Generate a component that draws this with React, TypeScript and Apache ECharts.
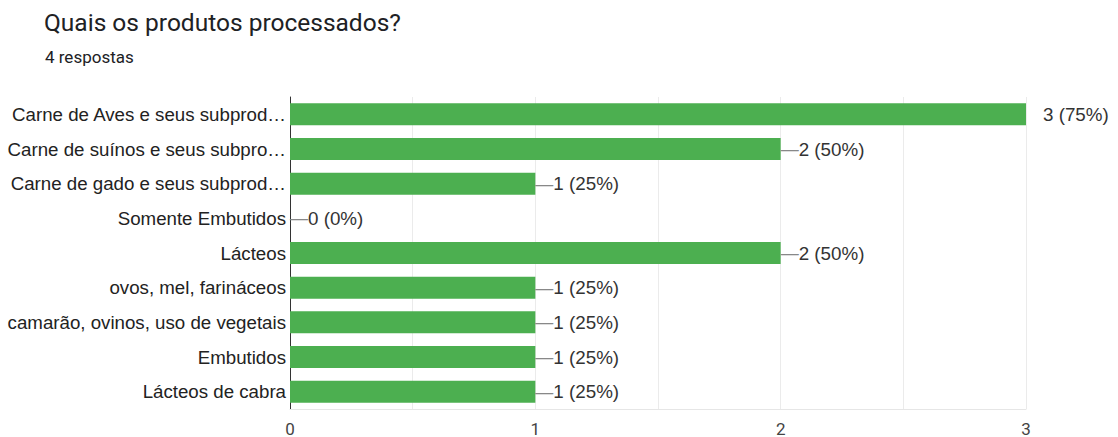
import React, { useEffect, useRef } from "react";
import * as echarts from "echarts";

const categories = [
  "Carne de Aves e seus subprod…",
  "Carne de suínos e seus subpro…",
  "Carne de gado e seus subprod…",
  "Somente Embutidos",
  "Lácteos",
  "ovos, mel, farináceos",
  "camarão, ovinos, uso de vegetais",
  "Embutidos",
  "Lácteos de cabra",
];
const counts = [3, 2, 1, 0, 2, 1, 1, 1, 1];
const percents = [75, 50, 25, 0, 50, 25, 25, 25, 25];
const xTicks = [0, 1, 2, 3];

const ARIAL = "'Liberation Sans', Arial, sans-serif";

export default function App() {
  const ref = useRef<HTMLDivElement>(null);
  useEffect(() => {
    const chart = echarts.init(ref.current!, null, { renderer: "svg" });
    chart.setOption({
      animation: false,
      textStyle: { fontFamily: ARIAL },
      title: [
        {
          text: "Quais os produtos processados?",
          left: 39,
          top: 5,
          textStyle: { fontSize: 24.5, fontWeight: "normal", color: "#202124", fontFamily: "Roboto, Arial, sans-serif" },
        },
        {
          text: "4 respostas",
          left: 40,
          top: 43,
          textStyle: { fontSize: 17, fontWeight: "normal", color: "#202124", fontFamily: "Roboto, Arial, sans-serif" },
        },
      ],
      grid: { left: 290, right: 92, top: 97, bottom: 28, containLabel: false },
      xAxis: {
        type: "value",
        min: 0,
        max: 3,
        interval: 0.5,
        axisLine: { show: true, lineStyle: { color: "#e6e6e6" } },
        axisTick: { show: false },
        splitLine: { show: true, lineStyle: { color: "#ebebeb" } },
        axisLabel: {
          fontSize: 17,
          color: "#444",
          margin: 11,
          fontFamily: "Roboto, sans-serif",
          formatter: (v: number) => (xTicks.includes(v) ? String(v) : ""),
        },
      },
      yAxis: {
        type: "category",
        data: categories,
        inverse: true,
        axisLine: { show: true, lineStyle: { color: "#333", width: 1 } },
        axisTick: { show: false },
        axisLabel: { fontSize: 18.7, color: "#222", margin: 4, fontFamily: ARIAL },
      },
      series: [
        {
          type: "bar",
          data: counts,
          barWidth: 22,
          itemStyle: { color: "#4caf50" },
          label: {
            show: true,
            position: "right",
            distance: 0,
            formatter: (p: any) => {
              const i = p.dataIndex;
              const t = `${counts[i]} (${percents[i]}%)`;
              return counts[i] === 3 ? `{s|}{t|${t}}` : `{d|—}{t|${t}}`;
            },
            rich: {
              d: { color: "#888", fontSize: 18, fontFamily: ARIAL },
              s: { width: 17 },
              t: { color: "#333", fontSize: 18.8, fontFamily: ARIAL },
            },
          },
        },
      ],
    });
    return () => chart.dispose();
  }, []);
  return (
    <div
      ref={ref}
      style={{ position: "absolute", left: 0, top: 0, width: 1118, height: 437, background: "#fff" }}
    />
  );
}
